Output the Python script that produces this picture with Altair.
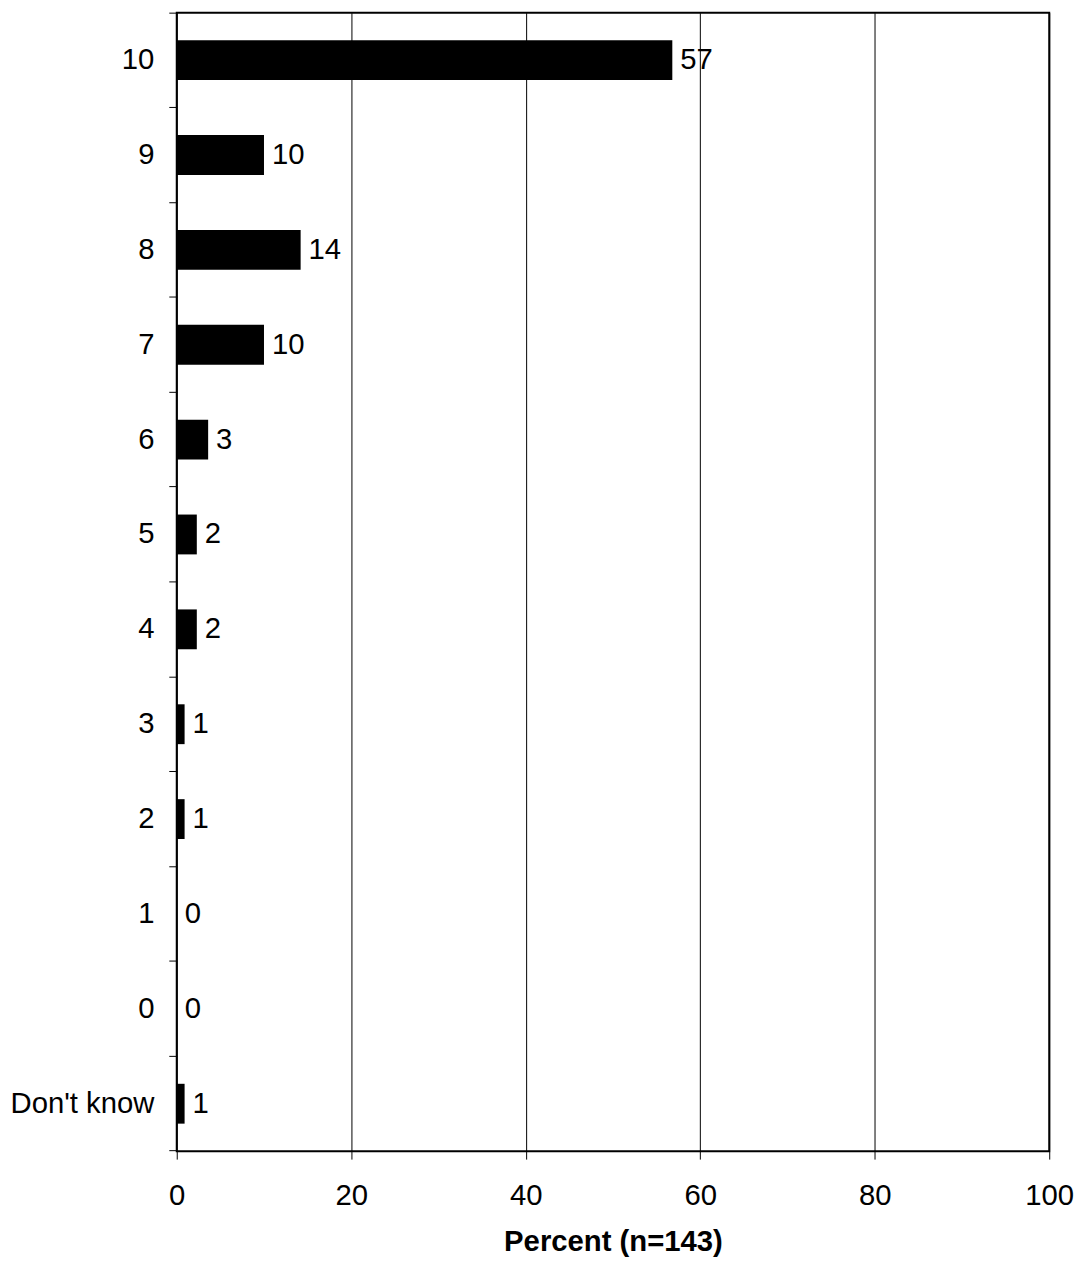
import altair as alt
import pandas as pd

categories = ["10", "9", "8", "7", "6", "5", "4", "3", "2", "1", "0", "Don't know"]
percents = [56.8, 10.0, 14.2, 10.0, 3.6, 2.3, 2.3, 0.9, 0.9, 0.0, 0.0, 0.9]
labels = ["57", "10", "14", "10", "3", "2", "2", "1", "1", "0", "0", "1"]
x_ticks = [0, 20, 40, 60, 80, 100]
x_title = "Percent (n=143)"

df = pd.DataFrame({"category": categories, "percent": percents, "label": labels})

FONT = "Liberation Sans"
FS = 29.5

y_enc = alt.Y(
    "category:N",
    sort=categories,
    scale=alt.Scale(paddingInner=0, paddingOuter=0),
    axis=alt.Axis(
        title=None,
        bandPosition=1,
        tickExtra=True,
        ticks=True,
        tickSize=8,
        tickColor="black",
        tickWidth=1,
        labelFontSize=FS,
        labelFont=FONT,
        labelColor="black",
        labelPadding=15,
        domain=False,
        grid=False,
    ),
)
x_enc = alt.X(
    "percent:Q",
    scale=alt.Scale(domain=[0, 100], nice=False),
    axis=alt.Axis(
        values=x_ticks,
        title=x_title,
        titleFont=FONT,
        titleFontSize=FS,
        titleFontWeight="bold",
        titleColor="black",
        titlePadding=18,
        grid=True,
        gridColor="black",
        gridWidth=1,
        gridOpacity=1,
        tickSize=8,
        tickColor="black",
        tickWidth=1,
        labelFont=FONT,
        labelFontSize=FS,
        labelColor="black",
        labelPadding=23,
        labelFlush=False,
        domain=False,
    ),
)

bars = alt.Chart(df).mark_bar(color="black", height=alt.RelativeBandSize(0.42)).encode(
    x=x_enc, y=y_enc
)
texts = alt.Chart(df).mark_text(
    align="left", baseline="middle", dx=8, font=FONT, fontSize=FS, color="black"
).encode(x="percent:Q", y=alt.Y("category:N", sort=categories), text="label:N")

chart = (
    alt.layer(bars, texts)
    .properties(
        width=879,
        height=1147,
        autosize=alt.AutoSizeParams(type="none"),
        padding={"left": 170, "top": 0, "right": 31, "bottom": 110},
    )
    .configure_view(stroke="black", strokeWidth=2)
)

chart.save("out.html", embed_options={"renderer": "svg", "actions": False})
